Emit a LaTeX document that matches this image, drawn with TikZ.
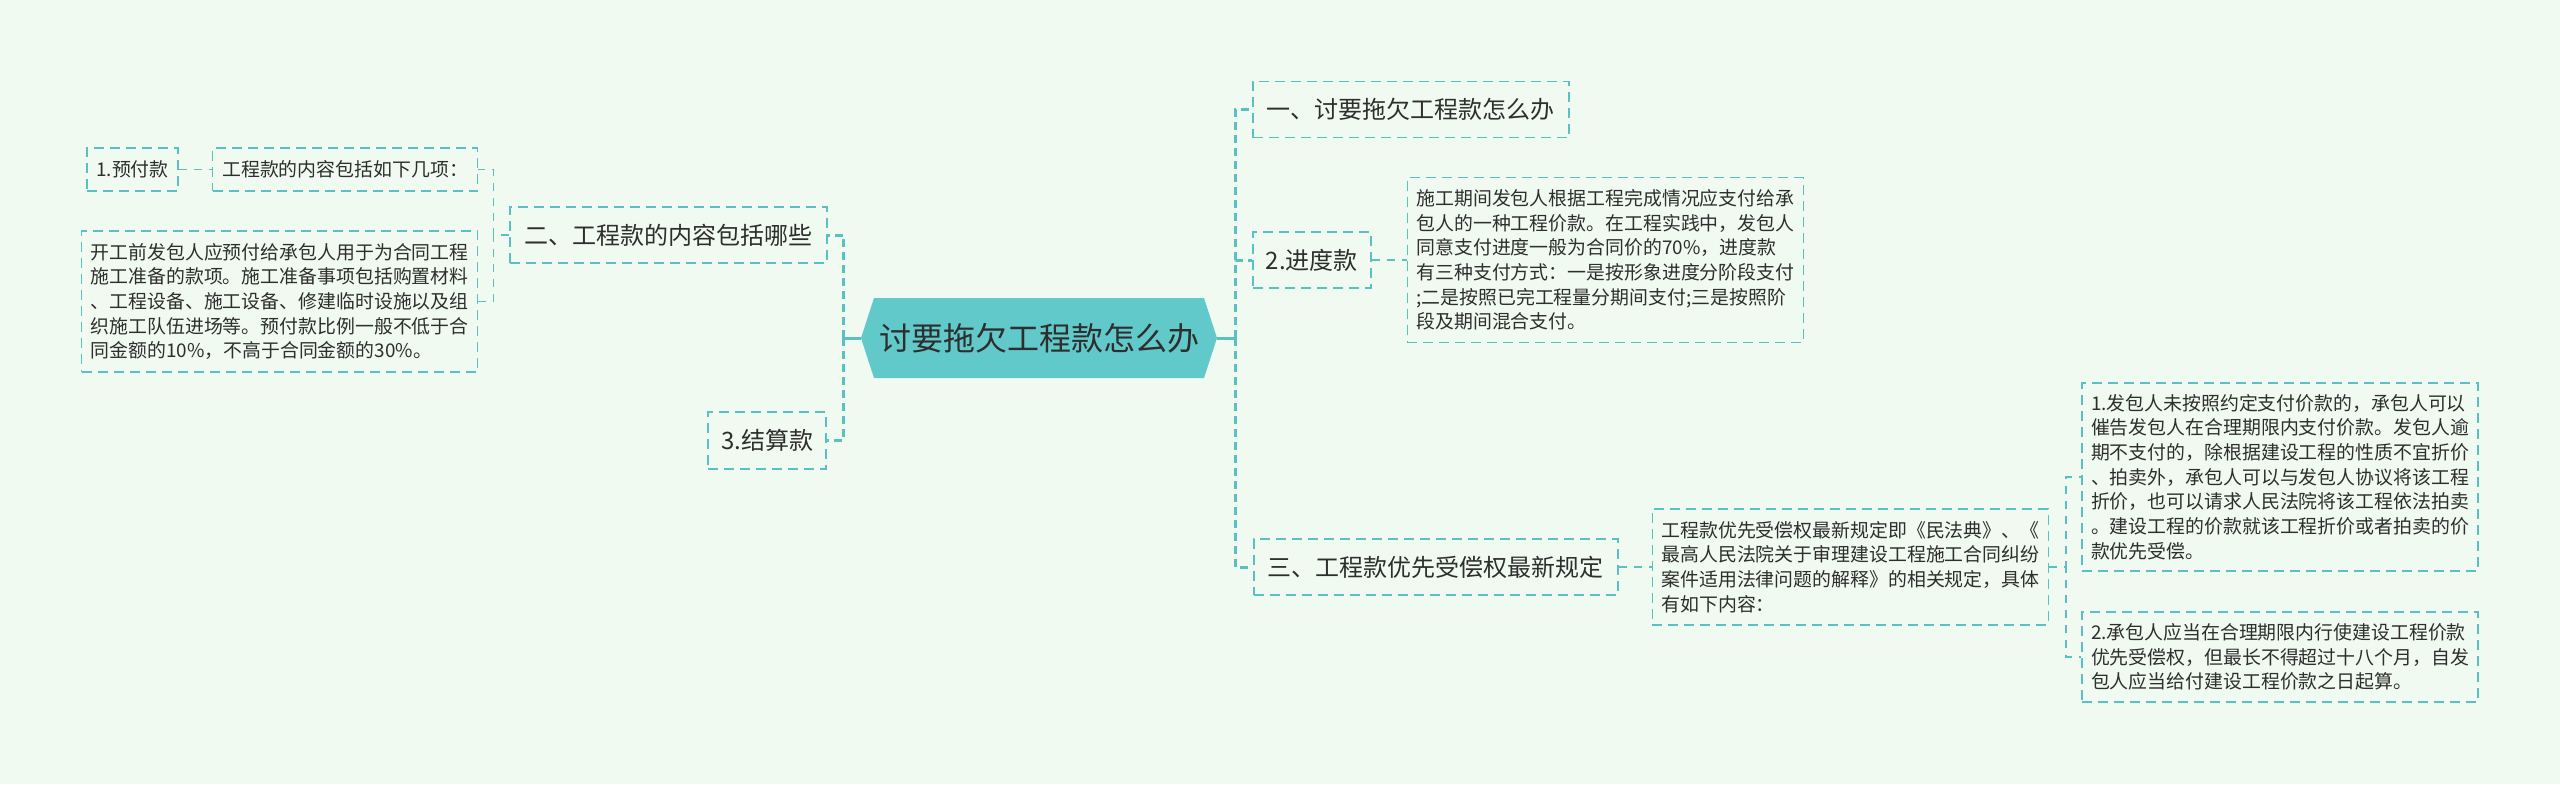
\documentclass[tikz,border=0pt]{standalone}
\usepackage{fontspec}
\setmainfont{Noto Sans CJK SC}
\usetikzlibrary{positioning,shapes.symbols}
\definecolor{mapbg}{HTML}{F0FAF1}
\definecolor{mapline}{HTML}{5BC0C4}
\definecolor{maproot}{HTML}{62C9CA}
\definecolor{maptext}{HTML}{2E2E2E}
\tikzset{
    rootbox/.style={signal,signal to=east and west,signal pointer angle=144,fill=maproot,draw=none,
        text=maptext,font=\fontsize{16pt}{20pt}\selectfont,minimum width=178pt,minimum height=40pt,inner sep=0pt},
    branchbox/.style={rectangle,draw=mapline,line width=0.8pt,dash pattern=on 5pt off 3pt,text=maptext,
        font=\fontsize{12pt}{15pt}\selectfont,minimum height=28pt,inner xsep=7pt},
    leafbox/.style={rectangle,draw=mapline,line width=0.8pt,dash pattern=on 5pt off 3pt,text=maptext,
        font=\fontsize{9.45pt}{12.35pt}\selectfont,minimum height=21.5pt,inner xsep=4.5pt},
    notebox/.style={leafbox,align=left,text width=189pt},
    trunkline/.style={draw=mapline,line width=1.5pt,dash pattern=on 4pt off 2.5pt},
    rootstub/.style={draw=mapline,line width=1.5pt},
    twigline/.style={draw=mapline,line width=0.9pt,dash pattern=on 4pt off 3.5pt}
}
\begin{document}
\begin{tikzpicture}
    \fill[mapbg] (0,0) rectangle (1280pt,392pt);
    \useasboundingbox (0,0) rectangle (1280pt,392pt);
    % centre
    \node[rootbox] (root) at (519.5pt,223pt) {讨要拖欠工程款怎么办};
    % right branches
    \node[branchbox,anchor=west,minimum width=158pt] (ask) at (626pt,337.25pt) {一、讨要拖欠工程款怎么办};
    \node[branchbox,anchor=west,minimum width=59pt,inner xsep=5.5pt] (progress) at (626pt,262pt) {2.进度款};
    \node[branchbox,anchor=west,minimum width=182pt] (priority) at (626.5pt,108.5pt) {三、工程款优先受偿权最新规定};
    \node[notebox,minimum height=82.5pt,right=17.5pt of progress] (progressnote) {施工期间发包人根据工程完成情况应支付给承\\包人的一种工程价款。在工程实践中，发包人\\同意支付进度一般为合同价的70\%，进度款\\有三种支付方式：一是按形象进度分阶段支付\\;二是按照已完工程量分期间支付;三是按照阶\\段及期间混合支付。};
    \node[notebox,minimum height=58pt,right=16.5pt of priority] (prioritynote) {工程款优先受偿权最新规定即《民法典》、《\\最高人民法院关于审理建设工程施工合同纠纷\\案件适用法律问题的解释》的相关规定，具体\\有如下内容：};
    \node[notebox,minimum height=94pt,right=16pt of prioritynote,yshift=45pt] (ruleone) {1.发包人未按照约定支付价款的，承包人可以\\催告发包人在合理期限内支付价款。发包人逾\\期不支付的，除根据建设工程的性质不宜折价\\、拍卖外，承包人可以与发包人协议将该工程\\折价，也可以请求人民法院将该工程依法拍卖\\。建设工程的价款就该工程折价或者拍卖的价\\款优先受偿。};
    \node[notebox,minimum height=45pt,right=16pt of prioritynote,yshift=-45pt] (ruletwo) {2.承包人应当在合理期限内行使建设工程价款\\优先受偿权，但最长不得超过十八个月，自发\\包人应当给付建设工程价款之日起算。};
    % left branches
    \node[branchbox,anchor=east,minimum width=158.5pt] (content) at (414pt,274.5pt) {二、工程款的内容包括哪些};
    \node[branchbox,anchor=east,minimum width=59pt,minimum height=28.5pt,inner xsep=5.5pt] (settle) at (413.5pt,171.75pt) {3.结算款};
    \node[leafbox,minimum width=132.5pt,left=15.5pt of content,yshift=32.75pt] (items) {工程款的内容包括如下几项：};
    \node[leafbox,minimum width=45.5pt,left=16.5pt of items] (advance) {1.预付款};
    \node[notebox,minimum height=70.5pt,left=15.5pt of content,yshift=-33.25pt] (advancenote) {开工前发包人应预付给承包人用于为合同工程\\施工准备的款项。施工准备事项包括购置材料\\、工程设备、施工设备、修建临时设施以及组\\织施工队伍进场等。预付款比例一般不低于合\\同金额的10\%，不高于合同金额的30\%。};
    % connectors
    \draw[rootstub] (root.east) -- ++(9pt,0);
    \draw[rootstub] (root.west) -- ++(-8.5pt,0);
    \draw[trunkline] (root.east) ++(9pt,0) |- (ask.west);
    \draw[trunkline] (root.east) ++(9pt,0) |- (progress.west);
    \draw[trunkline] (root.east) ++(9pt,0) |- (priority.west);
    \draw[trunkline] (root.west) ++(-8.5pt,0) |- (content.east);
    \draw[trunkline] (root.west) ++(-8.5pt,0) |- (settle.east);
    \draw[twigline] (progress) -- (progressnote);
    \draw[twigline] (priority) -- (prioritynote);
    \draw[twigline] (prioritynote.east) -- ++(8.5pt,0) |- (ruleone.west);
    \draw[twigline] (prioritynote.east) -- ++(8.5pt,0) |- (ruletwo.west);
    \draw[twigline] (content.west) -- ++(-8pt,0) |- (items.east);
    \draw[twigline] (content.west) -- ++(-8pt,0) |- (advancenote.east);
    \draw[twigline] (advance) -- (items);
\end{tikzpicture}
\end{document}
